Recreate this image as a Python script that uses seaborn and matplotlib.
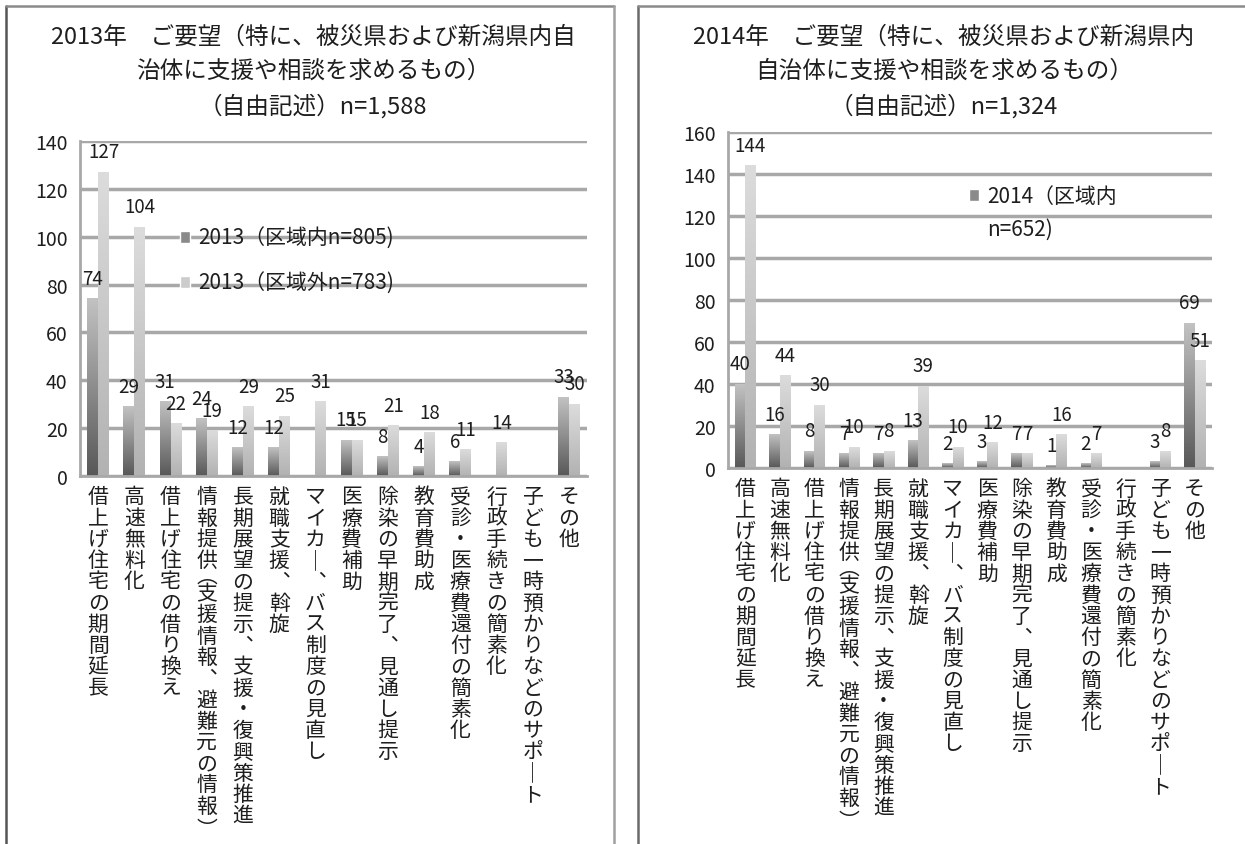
import numpy as np
import pandas as pd
import matplotlib
matplotlib.use('Agg')
import matplotlib.pyplot as plt
from matplotlib.colors import LinearSegmentedColormap
from matplotlib.lines import Line2D
from matplotlib.patches import Patch
import seaborn as sns

categories = ['借上げ住宅の期間延長', '高速無料化', '借上げ住宅の借り換え',
              '情報提供（支援情報、避難元の情報）', '長期展望の提示、支援・復興策推進',
              '就職支援、斡旋', 'マイカー、バス制度の見直し', '医療費補助',
              '除染の早期完了、見通し提示', '教育費助成', '受診・医療費還付の簡素化',
              '行政手続きの簡素化', '子ども一時預かりなどのサポート', 'その他']

nan = np.nan
in_2013 = [74, 29, 31, 24, 12, 12, nan, 15, 8, 4, 6, nan, nan, 33]
out_2013 = [127, 104, 22, 19, 29, 25, 31, 15, 21, 18, 11, 14, nan, 30]
in_2014 = [40, 16, 8, 7, 7, 13, 2, 3, 7, 1, 2, nan, 3, 69]
out_2014 = [144, 44, 30, 10, 8, 39, 10, 12, 7, 16, 7, nan, 8, 51]

title_2013 = '2013年\u3000ご要望（特に、被災県および新潟県内自\n治体に支援や相談を求めるもの）\n（自由記述）n=1,588'
title_2014 = '2014年\u3000ご要望（特に、被災県および新潟県内\n自治体に支援や相談を求めるもの）\n（自由記述）n=1,324'
legend_2013 = ['2013（区域内n=805)', '2013（区域外n=783)']
legend_2014 = ['2014（区域内', 'n=652)']

TXT = '#1e1e1e'
GRID = '#a8a8a8'
IN_CMAP = LinearSegmentedColormap.from_list('in', ['#585858', '#c2c2c2'])
OUT_CMAP = LinearSegmentedColormap.from_list('out', ['#b2b2b2', '#dcdcdc'])
# vertical writing forms
VERT = {'（': '︵', '）': '︶', '、': '︑', 'ー': '｜'}
HALF = {'（', '）'}

sns.set_style('white')
plt.rcParams['font.family'] = ['Noto Sans CJK JP', 'DejaVu Sans']

W, H = 1245, 845
fig = plt.figure(figsize=(W / 100, H / 100), dpi=100)


def px_rect(l, t, r, b):
    return [l / W, 1 - b / H, (r - l) / W, (b - t) / H]


def draw_panel(ax, inside, outside, ymax):
    df = pd.DataFrame({'cat': categories * 2,
                       'grp': ['in'] * len(categories) + ['out'] * len(categories),
                       'val': list(inside) + list(outside)})
    sns.barplot(data=df, x='cat', y='val', hue='grp', order=categories,
                hue_order=['in', 'out'], errorbar=None, width=0.6,
                palette=['#8a8a8a', '#cccccc'], legend=False, ax=ax)
    # gradient fill, one per bar
    for cont, cmap in zip(ax.containers, [IN_CMAP, OUT_CMAP]):
        for bar in cont:
            h = bar.get_height()
            if not np.isfinite(h) or h <= 0:
                continue
            x0 = bar.get_x()
            ax.imshow(np.linspace(0, 1, 128).reshape(-1, 1), cmap=cmap, origin='lower',
                      extent=[x0, x0 + bar.get_width(), 0, h], aspect='auto', zorder=2)
            bar.set_visible(False)
        labels = ['%d' % v if np.isfinite(v) and v > 0 else '' for v in cont.datavalues]
        ax.bar_label(cont, labels=labels, padding=7, fontsize=13.5, color=TXT, zorder=4)

    ax.set_xlim(-0.5, len(categories) - 0.5)
    ax.set_ylim(0, ymax)
    ax.set_yticks(range(0, ymax + 1, 20))
    ax.set_xlabel('')
    ax.set_ylabel('')
    ax.set_xticks(range(len(categories)))
    ax.set_xticklabels([''] * len(categories))
    ax.set_xticks(np.arange(-0.5, len(categories), 1), minor=True)
    ax.tick_params(axis='x', which='major', length=0)
    ax.tick_params(axis='x', which='minor', length=6, width=1.5, color=GRID, direction='out')
    ax.tick_params(axis='y', length=0, pad=9, labelsize=14, labelcolor=TXT)
    ax.set_axisbelow(True)
    ax.yaxis.grid(True, color=GRID, lw=2.5)
    for s in ['top', 'right']:
        ax.spines[s].set_visible(False)
    for s in ['left', 'bottom']:
        ax.spines[s].set_color(GRID)
        ax.spines[s].set_linewidth(2)

    # vertical (tategaki) category labels
    trans = ax.get_xaxis_transform()
    for i, lab in enumerate(categories):
        off = 19.0
        for ch in lab:
            step = 8.5 if ch in HALF else 15.3
            y = off - (4.0 if ch == '（' else 0) + (1.5 if ch == '）' else 0)
            ax.annotate(VERT.get(ch, ch), xy=(i, 0), xycoords=trans,
                        xytext=(0, -y), textcoords='offset points',
                        ha='center', va='baseline', fontsize=15, color=TXT)
            off += step


ax1 = fig.add_axes(px_rect(80, 142, 587, 477))
draw_panel(ax1, in_2013, out_2013, 140)
ax2 = fig.add_axes(px_rect(728, 133, 1212, 469))
draw_panel(ax2, in_2014, out_2014, 160)

leg1 = ax1.legend([Patch(facecolor='#8a8a8a'), Patch(facecolor='#cccccc')], legend_2013,
                  loc='upper left', bbox_to_anchor=(180 / W, 1 - 228 / H),
                  bbox_transform=fig.transFigure, frameon=False, fontsize=15,
                  handlelength=0.5, handleheight=0.5, handletextpad=0.35,
                  labelspacing=1.1, borderpad=0, borderaxespad=0, labelcolor=TXT)
leg2 = ax2.legend([Patch(facecolor='#8a8a8a'), Patch(facecolor='none', edgecolor='none')],
                  legend_2014,
                  loc='upper left', bbox_to_anchor=(969 / W, 1 - 186 / H),
                  bbox_transform=fig.transFigure, frameon=False, fontsize=15,
                  handlelength=0.5, handleheight=0.5, handletextpad=0.35,
                  labelspacing=0.5, borderpad=0, borderaxespad=0, labelcolor=TXT)

fig.text(313 / W, 1 - 26 / H, title_2013, ha='center', va='top', fontsize=17,
         color=TXT, linespacing=1.58)
fig.text(944 / W, 1 - 26 / H, title_2014, ha='center', va='top', fontsize=17,
         color=TXT, linespacing=1.58)

# panel frames
for (x0, y0, x1, y1, c) in [(6, 845, 6, 7, '#555555'), (6, 7, 614, 7, '#8a8a8a'),
                            (614, 7, 614, 845, '#a0a0a0'), (638, 845, 638, 7, '#6a6a6a'),
                            (638, 7, 1245, 7, '#8a8a8a')]:
    fig.add_artist(Line2D([x0 / W, x1 / W], [1 - y0 / H, 1 - y1 / H],
                          transform=fig.transFigure, color=c, lw=1.8))

fig.savefig('out.png', dpi=100)
